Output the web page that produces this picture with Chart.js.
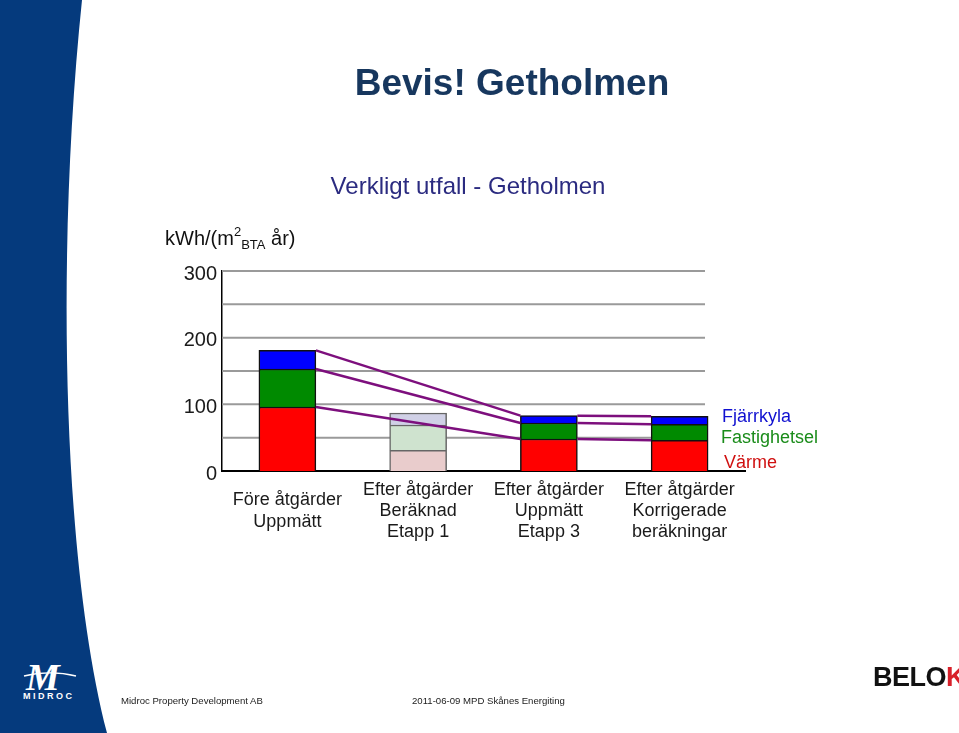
<!DOCTYPE html>
<html>
<head>
<meta charset="utf-8">
<script src="https://cdn.jsdelivr.net/npm/chart.js@4.4.0/dist/chart.umd.min.js"></script>
<style>
  body { margin: 0; width: 959px; height: 733px; position: relative; overflow: hidden; background: #fff;
         font-family: "Liberation Sans", Arial, sans-serif; }
  .t { position: absolute; white-space: nowrap; }
  #energy { position: absolute; left: 0; top: 0; }
  #strip { position: absolute; left: 0; top: 0; }
</style>
</head>
<body>
<svg id="strip" width="120" height="733">
  <path d="M0 0 H82 C56 250, 62 560, 107 733 H0 Z" fill="#053a7d"/>
  <path d="M24 676 C40 672, 60 672, 76 676" stroke="#fff" stroke-width="1.5" fill="none"/>
</svg>
<div class="t" style="left:26px;top:655px;font:italic bold 38px 'Liberation Serif',serif;color:#fff;letter-spacing:-2px">M</div>
<div class="t" style="left:23px;top:691px;font:bold 9px 'Liberation Sans',Arial;color:#fff;letter-spacing:2.5px">MIDROC</div>

<canvas id="energy" width="959" height="733"></canvas>

<div class="t" style="left:512px;top:64px;transform:translateX(-50%);font:bold 37px/37px 'Liberation Sans',Arial;color:#17375e">Bevis! Getholmen</div>
<div class="t" style="left:468px;top:174px;transform:translateX(-50%);font:24px/24px 'Liberation Sans',Arial;color:#2b2b80">Verkligt utfall - Getholmen</div>
<div class="t" style="left:165px;top:222px;font:20px/20px 'Liberation Sans',Arial;color:#111">kWh/(m<sup style="font-size:13px;vertical-align:9px">2</sup><sub style="font-size:13px;vertical-align:-4px">BTA</sub> år)</div>

<div class="t" style="left:722px;top:407px;font:18px/18px 'Liberation Sans',Arial;color:#1010d0">Fjärrkyla</div>
<div class="t" style="left:721px;top:428px;font:18px/18px 'Liberation Sans',Arial;color:#1a8c1a">Fastighetsel</div>
<div class="t" style="left:724px;top:453px;font:18px/18px 'Liberation Sans',Arial;color:#d01010">Värme</div>

<div class="t" style="left:121px;top:696px;font:9.6px/10px 'Liberation Sans',Arial;color:#222">Midroc Property Development AB</div>
<div class="t" style="left:412px;top:696px;font:9.6px/10px 'Liberation Sans',Arial;color:#222">2011-06-09 MPD Skånes Energiting</div>
<div class="t" style="left:873px;top:664px;font:bold 27px/27px 'Liberation Sans',Arial;color:#111;letter-spacing:-0.5px">BELO<span style="color:#d8202a">K</span></div>

<script>
const categories = [
  ['Före åtgärder', 'Uppmätt'],
  ['Efter åtgärder', 'Beräknad', 'Etapp 1'],
  ['Efter åtgärder', 'Uppmätt', 'Etapp 3'],
  ['Efter åtgärder', 'Korrigerade', 'beräkningar']
];
const varme = [96, 31, 48, 46];
const fastighetsel = [57, 38, 24, 24];
const fjarrkyla = [28, 18, 11, 12];
const estimated = [false, true, false, false];
const yTicks = [0, 100, 200, 300];
const links = [[0, 2], [2, 3]];

function pick(strong, pale) {
  return estimated.map(e => e ? pale : strong);
}

// grey grid lines stop short of the baseline, purple lines join the stack tops
const gridAndLinks = {
  id: 'gridAndLinks',
  beforeDatasetsDraw(chart) {
    const { ctx, chartArea, scales: { y } } = chart;
    ctx.save();
    ctx.strokeStyle = '#9a9a9a';
    ctx.lineWidth = 2;
    y.ticks.forEach(t => {
      if (t.value === 0) return;
      const py = y.getPixelForValue(t.value);
      ctx.beginPath();
      ctx.moveTo(chartArea.left, py);
      ctx.lineTo(chartArea.right - 40, py);
      ctx.stroke();
    });
    ctx.restore();
  },
  afterDatasetsDraw(chart) {
    const ctx = chart.ctx;
    ctx.save();
    ctx.strokeStyle = '#7d0f7d';
    ctx.lineWidth = 2.5;
    chart.data.datasets.forEach((ds, d) => {
      const meta = chart.getDatasetMeta(d);
      links.forEach(([a, b]) => {
        const ea = meta.data[a], eb = meta.data[b];
        ctx.beginPath();
        ctx.moveTo(ea.x + ea.width / 2, ea.y);
        ctx.lineTo(eb.x - eb.width / 2, eb.y);
        ctx.stroke();
      });
    });
    ctx.restore();
  }
};

new Chart(document.getElementById('energy'), {
  type: 'bar',
  data: {
    labels: categories,
    datasets: [
      { label: 'Värme', data: varme, backgroundColor: pick('#ff0000', '#e9cccc'), borderColor: pick('#111', '#666'), borderWidth: 1.5 },
      { label: 'Fastighetsel', data: fastighetsel, backgroundColor: pick('#008a00', '#cfe3cf'), borderColor: pick('#111', '#666'), borderWidth: 1.5 },
      { label: 'Fjärrkyla', data: fjarrkyla, backgroundColor: pick('#0000ff', '#d0d0e6'), borderColor: pick('#111', '#666'), borderWidth: 1.5 }
    ]
  },
  options: {
    responsive: false,
    animation: false,
    layout: { padding: { left: 150, right: 214, top: 271, bottom: 0 } },
    datasets: { bar: { barThickness: 57 } },
    plugins: { legend: { display: false }, tooltip: { enabled: false } },
    scales: {
      x: {
        stacked: true,
        grid: { display: false, drawTicks: false },
        border: { display: true, color: '#000', width: 2 },
        afterFit(scale) { scale.height = 262; },
        ticks: {
          color: '#1a1a1a',
          padding: 19,
          crossAlign: 'center',
          maxRotation: 0,
          font: { family: "'Liberation Sans', Arial", size: 18, lineHeight: 1.17 }
        }
      },
      y: {
        stacked: true,
        min: 0,
        max: 300,
        grid: { display: false, drawTicks: false },
        border: { display: true, color: '#000', width: 1.5 },
        afterFit(scale) { scale.width = 72; },
        ticks: {
          stepSize: 50,
          padding: 5,
          labelOffset: 3,
          color: '#1a1a1a',
          font: { family: "'Liberation Sans', Arial", size: 20 },
          callback: v => yTicks.includes(v) ? v : ''
        }
      }
    }
  },
  plugins: [gridAndLinks]
});
</script>
</body>
</html>
